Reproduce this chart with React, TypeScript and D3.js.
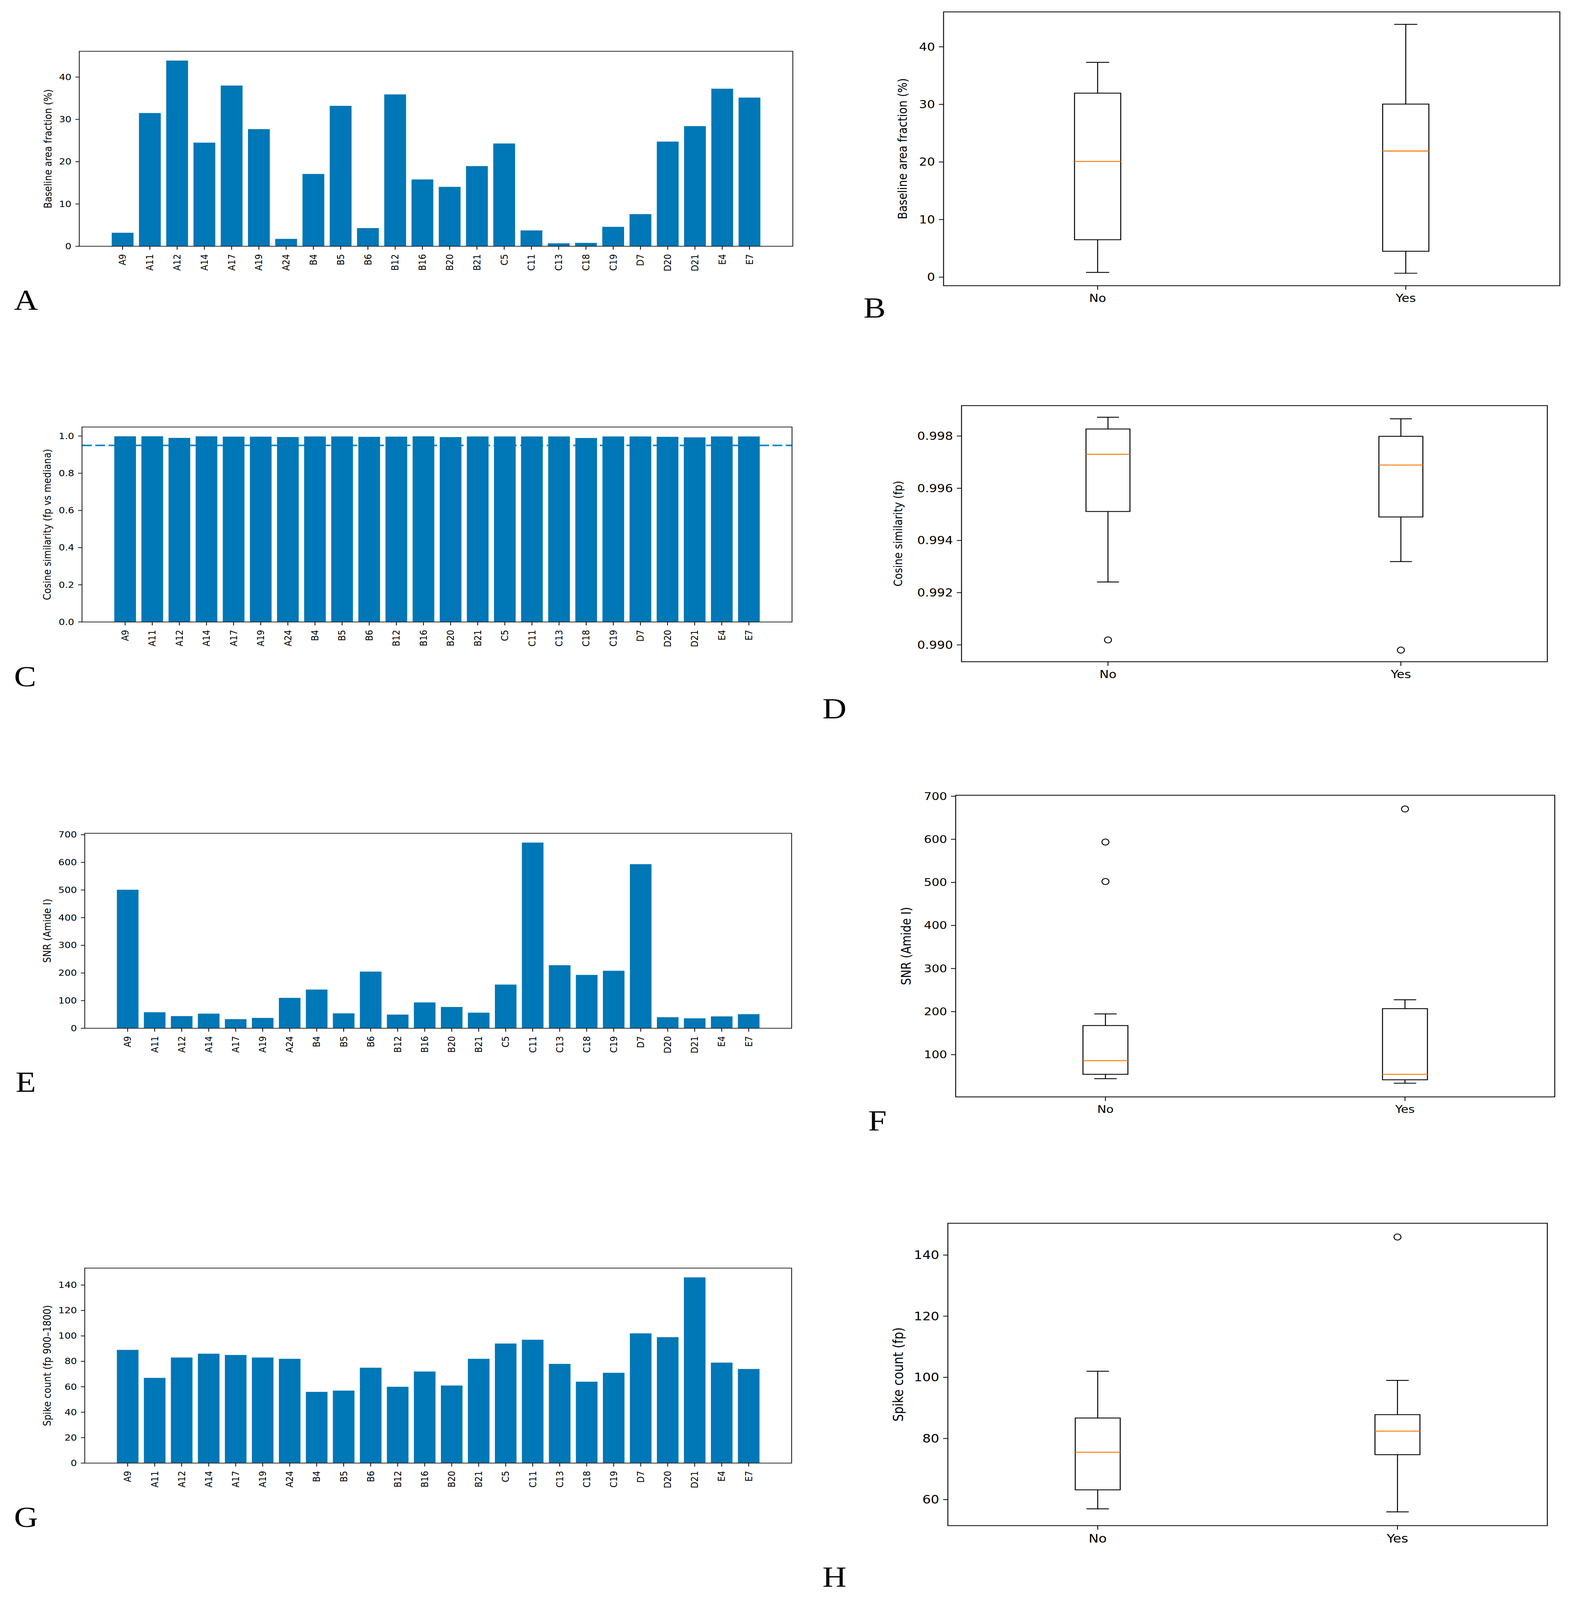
import React from "react"
import * as d3 from "d3"

// sample names along the x axis of the bar panels
const samples = [
  "A9", "A11", "A12", "A14", "A17", "A19", "A24", "B4", "B5", "B6", "B12", "B16",
  "B20", "B21", "C5", "C11", "C13", "C18", "C19", "D7", "D20", "D21", "E4", "E7",
]

const baselineArea = [
  3.2, 31.5, 43.9, 24.5, 38.0, 27.7, 1.75, 17.1, 33.2, 4.3, 35.9, 15.8,
  14.05, 18.95, 24.3, 3.75, 0.7, 0.8, 4.6, 7.6, 24.75, 28.4, 37.25, 35.15,
]
const cosineSim = [
  0.9989, 0.9989, 0.9902, 0.9987, 0.997, 0.997, 0.995, 0.998, 0.998, 0.996, 0.997, 0.9987,
  0.9946, 0.998, 0.998, 0.998, 0.998, 0.9898, 0.998, 0.998, 0.996, 0.9932, 0.998, 0.998,
]
const snrAmide = [
  501, 58, 44, 53, 33, 37.5, 110, 140, 54, 205, 49.5, 93.5,
  77, 56.5, 158, 671.6, 228, 193, 208, 593.5, 40, 36, 43, 51,
]
const spikeCount = [
  89, 67, 83, 86, 85, 83, 82, 56, 57, 75, 60, 72,
  61, 82, 94, 97, 78, 64, 71, 102, 99, 146, 79, 74,
]

const groups = ["No", "Yes"]

// boxplot summaries per group: lower whisker, q1, median, q3, upper whisker, fliers
const baselineBox = [
  { lo: 0.82, q1: 6.5, med: 20.1, q3: 31.95, hi: 37.3, out: [] as number[] },
  { lo: 0.68, q1: 4.5, med: 21.9, q3: 30.05, hi: 43.9, out: [] as number[] },
]
const cosineBox = [
  { lo: 0.99241, q1: 0.99511, med: 0.9973, q3: 0.99827, hi: 0.99872, out: [0.99019] },
  { lo: 0.99319, q1: 0.9949, med: 0.99689, q3: 0.99799, hi: 0.99866, out: [0.9898] },
]
const snrBox = [
  { lo: 44.4, q1: 54.5, med: 86.2, q3: 167.7, hi: 194.7, out: [502, 593.6] },
  { lo: 33.9, q1: 41.8, med: 54.5, q3: 206.9, hi: 227.5, out: [670.4] },
]
const spikeBox = [
  { lo: 57, q1: 63.2, med: 75.5, q3: 86.7, hi: 102, out: [] as number[] },
  { lo: 56, q1: 74.7, med: 82.4, q3: 87.8, hi: 99, out: [145.9] },
]

const areaTicks = [0, 10, 20, 30, 40]
const cosineTicks = [0, 0.2, 0.4, 0.6, 0.8, 1.0]
const cosineBoxTicks = [0.99, 0.992, 0.994, 0.996, 0.998]
const snrTicks = [0, 100, 200, 300, 400, 500, 600, 700]
const snrBoxTicks = [100, 200, 300, 400, 500, 600, 700]
const spikeTicks = [0, 20, 40, 60, 80, 100, 120, 140]
const spikeBoxTicks = [60, 80, 100, 120, 140]

const BAR = "#0077b6"
const FONT = "DejaVu Sans"

type Box = { l: number; r: number; t: number; b: number }

function BarPanel({ box, values, ticks, fmt, ylabel, ylabelX, refLine }: {
  box: Box; values: number[]; ticks: number[]; fmt: (v: number) => string
  ylabel: string; ylabelX: number; refLine?: number
}) {
  const { l, r, t, b } = box
  const n = values.length
  const lo = -0.4, hi = n - 1 + 0.4, pad = 0.05 * (hi - lo)
  const x = d3.scaleLinear().domain([lo - pad, hi + pad]).range([l, r])
  const y = d3.scaleLinear().domain([0, (d3.max(values) || 0) * 1.05]).range([b, t])
  const fs = 25
  return (
    <g fontFamily={FONT}>
      {/* threshold line sits behind the bars, as in the original */}
      {refLine !== undefined && (
        <line x1={l} x2={r} y1={y(refLine)} y2={y(refLine)} stroke="#0a85c9" strokeWidth={4.5} strokeDasharray="25 9" />
      )}
      {values.map((v, i) => (
        <rect key={i} x={x(i - 0.4)} width={x(0.8) - x(0)} y={y(v)} height={b - y(v)} fill={BAR} />
      ))}
      <rect x={l} y={t} width={r - l} height={b - t} fill="none" stroke="#222" strokeWidth={2.2} />
      {ticks.map((v) => (
        <g key={v}>
          <line x1={l - 10} x2={l} y1={y(v)} y2={y(v)} stroke="#000" strokeWidth={2} />
          <text x={l - 20} y={y(v)} fontSize={fs} textAnchor="end" dominantBaseline="central">{fmt(v)}</text>
        </g>
      ))}
      {samples.map((s, i) => (
        <g key={s}>
          <line x1={x(i)} x2={x(i)} y1={b} y2={b + 10} stroke="#000" strokeWidth={2} />
          <text transform={`translate(${x(i)},${b + 23}) rotate(-90)`} fontSize={fs} textAnchor="end" dominantBaseline="central">{s}</text>
        </g>
      ))}
      <text transform={`translate(${ylabelX},${(t + b) / 2}) rotate(-90)`} fontSize={27} textAnchor="middle" dominantBaseline="central">{ylabel}</text>
    </g>
  )
}

function BoxPanel({ box, stats, ticks, fmt, ylabel, ylabelX, fs, lfs }: {
  box: Box; stats: typeof snrBox; ticks: number[]; fmt: (v: number) => string
  ylabel: string; ylabelX: number; fs: number; lfs: number
}) {
  const { l, r, t, b } = box
  const all = stats.flatMap((s) => [s.lo, s.hi, ...s.out])
  const mn = d3.min(all) || 0, mx = d3.max(all) || 0, pad = 0.05 * (mx - mn)
  const x = d3.scaleLinear().domain([0.5, 2.5]).range([l, r])
  const y = d3.scaleLinear().domain([mn - pad, mx + pad]).range([b, t])
  const hw = x(0.075) - x(0), cw = x(0.0375) - x(0)
  return (
    <g fontFamily={FONT}>
      {stats.map((s, i) => {
        const cx = x(i + 1)
        return (
          <g key={i} stroke="#000" strokeWidth={2.5} fill="none">
            <line x1={cx} x2={cx} y1={y(s.q1)} y2={y(s.lo)} />
            <line x1={cx} x2={cx} y1={y(s.q3)} y2={y(s.hi)} />
            <line x1={cx - cw} x2={cx + cw} y1={y(s.lo)} y2={y(s.lo)} />
            <line x1={cx - cw} x2={cx + cw} y1={y(s.hi)} y2={y(s.hi)} />
            <rect x={cx - hw} width={2 * hw} y={y(s.q3)} height={y(s.q1) - y(s.q3)} />
            <line x1={cx - hw} x2={cx + hw} y1={y(s.med)} y2={y(s.med)} stroke="#ff7f0e" strokeWidth={3} />
            {s.out.map((o, j) => (
              <circle key={j} cx={cx} cy={y(o)} r={9} />
            ))}
          </g>
        )
      })}
      <rect x={l} y={t} width={r - l} height={b - t} fill="none" stroke="#111" strokeWidth={2.5} />
      {ticks.map((v) => (
        <g key={v}>
          <line x1={l - 12} x2={l} y1={y(v)} y2={y(v)} stroke="#000" strokeWidth={2.2} />
          <text x={l - 22} y={y(v)} fontSize={fs} textAnchor="end" dominantBaseline="central">{fmt(v)}</text>
        </g>
      ))}
      {groups.map((g, i) => (
        <g key={g}>
          <line x1={x(i + 1)} x2={x(i + 1)} y1={b} y2={b + 12} stroke="#000" strokeWidth={2.2} />
          <text x={x(i + 1)} y={b + 24} fontSize={fs} textAnchor="middle" dominantBaseline="hanging">{g}</text>
        </g>
      ))}
      <text transform={`translate(${ylabelX},${(t + b) / 2}) rotate(-90)`} fontSize={lfs} textAnchor="middle" dominantBaseline="central">{ylabel}</text>
    </g>
  )
}

function Letter({ x, y, c }: { x: number; y: number; c: string }) {
  return <text x={x} y={y} fontFamily="Liberation Serif" fontSize={85}>{c}</text>
}

const int = d3.format("d")

export default function App() {
  // the page viewport is shorter than the figure, so the figure is fitted to it
  return (
    <div style={{ position: "fixed", left: 0, top: 0, width: "100vw", height: "100vh", overflow: "hidden", background: "#fff" }}>
      <svg viewBox="0 0 4061 4710" preserveAspectRatio="none" style={{ display: "block", width: "100%", height: "100%" }}>
        <BarPanel box={{ l: 203, r: 2030, t: 151, b: 725 }} values={baselineArea} ticks={areaTicks} fmt={int}
          ylabel="Baseline area fraction (%)" ylabelX={123} />
        <BoxPanel box={{ l: 2416, r: 3994, t: 35, b: 841 }} stats={baselineBox} ticks={areaTicks} fmt={int}
          ylabel="Baseline area fraction (%)" ylabelX={2311} fs={32} lfs={32} />
        <BarPanel box={{ l: 210, r: 2028, t: 1257, b: 1831 }} values={cosineSim} ticks={cosineTicks} fmt={d3.format(".1f")}
          ylabel="Cosine similarity (fp vs mediana)" ylabelX={121} refLine={0.95} />
        <BoxPanel box={{ l: 2462, r: 3962, t: 1194, b: 1948 }} stats={cosineBox} ticks={cosineBoxTicks} fmt={d3.format(".3f")}
          ylabel="Cosine similarity (fp)" ylabelX={2300} fs={32} lfs={30} />
        <BarPanel box={{ l: 217, r: 2027, t: 2453, b: 3027 }} values={snrAmide} ticks={snrTicks} fmt={int}
          ylabel="SNR (Amide I)" ylabelX={121} />
        <BoxPanel box={{ l: 2447, r: 3981, t: 2341, b: 3229 }} stats={snrBox} ticks={snrBoxTicks} fmt={int}
          ylabel="SNR (Amide I)" ylabelX={2320} fs={31} lfs={33} />
        <BarPanel box={{ l: 217, r: 2027, t: 3733, b: 4307 }} values={spikeCount} ticks={spikeTicks} fmt={int}
          ylabel="Spike count (fp 900–1800)" ylabelX={121} />
        <BoxPanel box={{ l: 2427, r: 3962, t: 3601, b: 4491 }} stats={spikeBox} ticks={spikeBoxTicks} fmt={int}
          ylabel="Spike count (fp)" ylabelX={2300} fs={34} lfs={35} />

        <Letter x={36} y={912} c="A" />
        <Letter x={2211} y={935} c="B" />
        <Letter x={36} y={2020} c="C" />
        <Letter x={2106} y={2115} c="D" />
        <Letter x={40} y={3214} c="E" />
        <Letter x={2223} y={3328} c="F" />
        <Letter x={36} y={4495} c="G" />
        <Letter x={2106} y={4671} c="H" />
      </svg>
    </div>
  )
}
